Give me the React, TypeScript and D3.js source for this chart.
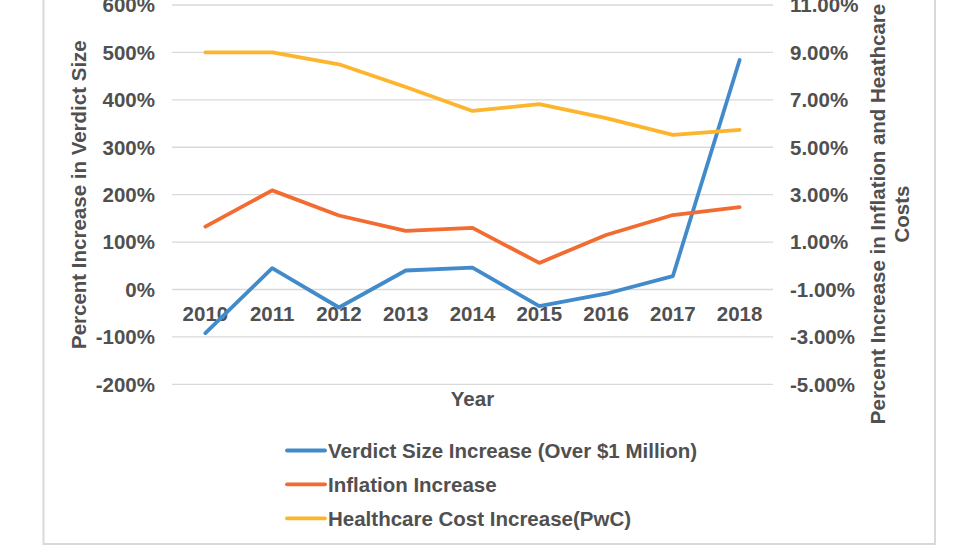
import React from "react";
import * as d3 from "d3";

const years = ["2010", "2011", "2012", "2013", "2014", "2015", "2016", "2017", "2018"];
const verdictIncrease = [-92, 45, -38, 40, 46, -35, -9, 28, 484];
const inflationIncrease = [1.65, 3.18, 2.12, 1.47, 1.6, 0.12, 1.3, 2.14, 2.47];
const healthcareIncrease = [9.0, 9.0, 8.5, 7.54, 6.53, 6.82, 6.23, 5.52, 5.73];
const leftTicks = [-200, -100, 0, 100, 200, 300, 400, 500, 600];
const rightTicks = [-5, -3, -1, 1, 3, 5, 7, 9, 11];

const seriesInfo = [
  { name: "Verdict Size Increase (Over $1 Million)", color: "#428BCA" },
  { name: "Inflation Increase", color: "#F26B30" },
  { name: "Healthcare Cost Increase(PwC)", color: "#FDB52D" },
];

const W = 980;
const H = 552;
const plotLeft = 172;
const plotRight = 773;
const plotTop = 5;
const plotBottom = 384.3;
const textColor = "#505050";
const font = "'Liberation Sans', Arial, sans-serif";
const fs = 20.5;

export default function App() {
  const x = d3.scaleBand<string>().domain(years).range([plotLeft, plotRight]);
  const cx = (y: string) => (x(y) as number) + x.bandwidth() / 2;
  const yL = d3.scaleLinear().domain([-200, 600]).range([plotBottom, plotTop]);
  const yR = d3.scaleLinear().domain([-5, 11]).range([plotBottom, plotTop]);

  const lineL = d3
    .line<number>()
    .x((_, i) => cx(years[i]))
    .y((d) => yL(d));
  const lineR = d3
    .line<number>()
    .x((_, i) => cx(years[i]))
    .y((d) => yR(d));

  const paths = [
    { d: lineL(verdictIncrease), color: seriesInfo[0].color },
    { d: lineR(inflationIncrease), color: seriesInfo[1].color },
    { d: lineR(healthcareIncrease), color: seriesInfo[2].color },
  ];

  const legendY = [450.5, 484.3, 518.3];

  return (
    <svg
      width={W}
      height={H}
      style={{ position: "absolute", left: 0, top: 0, background: "#fff" }}
      fontFamily={font}
      fontWeight="bold"
    >
      <rect x={0} y={0} width={W} height={H} fill="#fff" />
      <rect x={43.5} y={-20} width={891.5} height={564} fill="none" stroke="#d9d9d9" strokeWidth={2} />
      {leftTicks.map((t) => (
        <line key={t} x1={plotLeft} x2={plotRight} y1={yL(t)} y2={yL(t)} stroke="#d9d9d9" strokeWidth={1.3} />
      ))}
      {leftTicks.map((t) => (
        <text key={"l" + t} x={155} y={yL(t) + 7.3} textAnchor="end" fontSize={fs} fill={textColor}>
          {t + "%"}
        </text>
      ))}
      {rightTicks.map((t) => (
        <text key={"r" + t} x={790} y={yR(t) + 7.3} textAnchor="start" fontSize={fs} fill={textColor}>
          {t.toFixed(2) + "%"}
        </text>
      ))}
      {years.map((yr) => (
        <text key={yr} x={cx(yr)} y={321} textAnchor="middle" fontSize={fs} fill={textColor}>
          {yr}
        </text>
      ))}
      {paths.map((p, i) => (
        <path key={i} d={p.d || ""} fill="none" stroke={p.color} strokeWidth={3.8} strokeLinejoin="round" strokeLinecap="round" />
      ))}
      <text x={(plotLeft + plotRight) / 2} y={406} textAnchor="middle" fontSize={fs} fill={textColor}>
        Year
      </text>
      <text
        transform={`translate(86, ${(plotTop + plotBottom) / 2}) rotate(-90)`}
        textAnchor="middle"
        fontSize={fs}
        fill={textColor}
      >
        Percent Increase in Verdict Size
      </text>
      <text transform={`translate(885, 214) rotate(-90)`} textAnchor="middle" fontSize={fs} fill={textColor}>
        Percent Increase in Inflation and Heathcare
      </text>
      <text transform={`translate(909, 214) rotate(-90)`} textAnchor="middle" fontSize={fs} fill={textColor}>
        Costs
      </text>
      {seriesInfo.map((s, i) => (
        <g key={s.name}>
          <line x1={287} x2={325} y1={legendY[i]} y2={legendY[i]} stroke={s.color} strokeWidth={3.8} strokeLinecap="round" />
          <text x={328} y={legendY[i] + 7.3} fontSize={fs} fill={textColor}>
            {s.name}
          </text>
        </g>
      ))}
    </svg>
  );
}
